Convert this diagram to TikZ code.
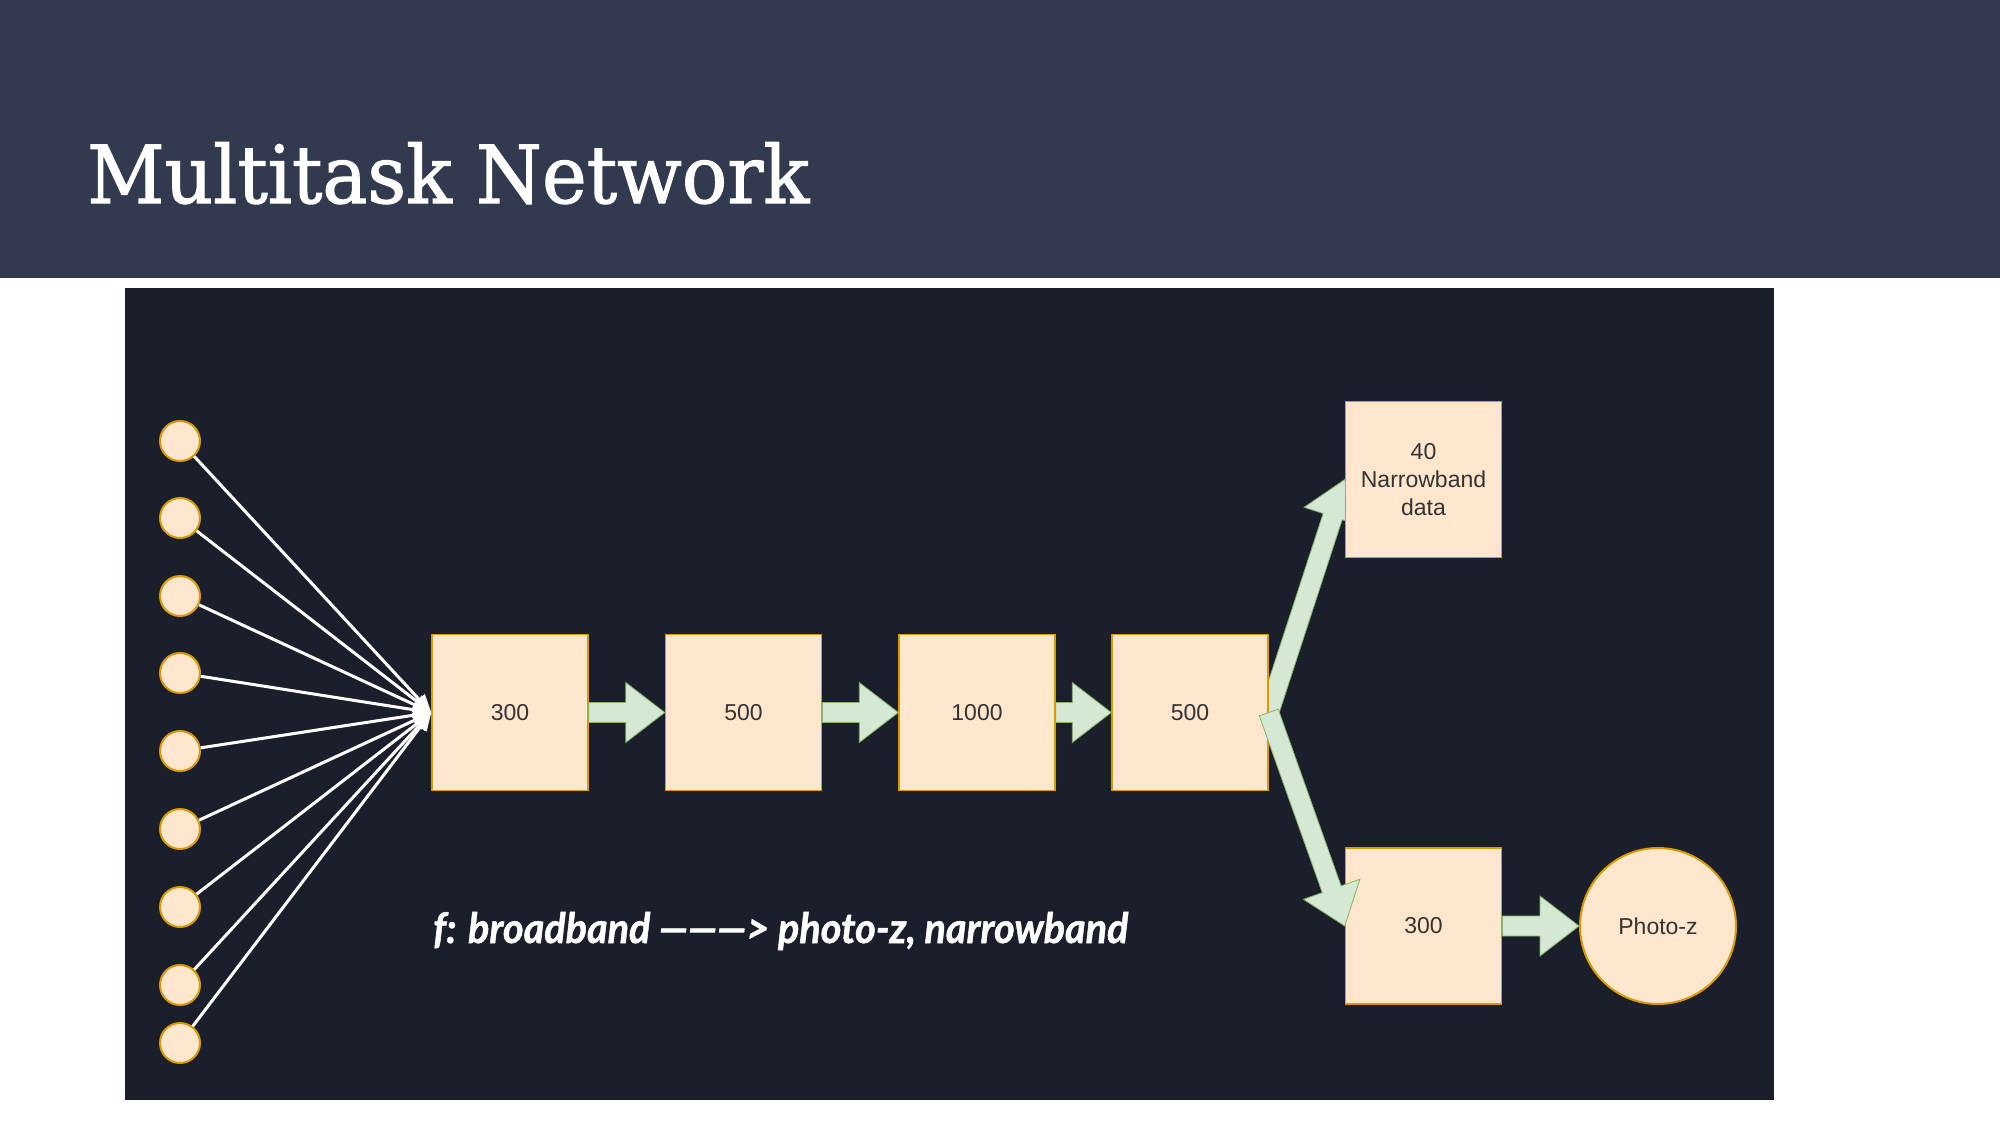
\documentclass[tikz,border=0pt]{standalone}
\usepackage{fontspec}
\setmainfont{Liberation Sans}
\newfontfamily\titlefont{DejaVu Serif}[FakeBold=1.4]
\newfontfamily\capfont{Lato}[FakeBold=1.2]
\usetikzlibrary{arrows.meta,calc}

\definecolor{headbg}{HTML}{323A4F}
\definecolor{panelbg}{HTML}{1B1F2B}
\definecolor{unitfill}{HTML}{FFE6CC}
\definecolor{unitline}{HTML}{D79B00}
\definecolor{flowfill}{HTML}{D5E8D4}
\definecolor{flowline}{HTML}{82B366}
\definecolor{labeltext}{HTML}{333333}

\pgfdeclarelayer{back}
\pgfdeclarelayer{mid}
\pgfsetlayers{back,mid,main}

\tikzset{
  layer/.style={draw=unitline, fill=unitfill, line width=1.5pt,
    minimum width=156pt, minimum height=156pt, inner sep=0pt,
    text=labeltext, font=\fontsize{23}{28}\selectfont, align=center},
  inputunit/.style={circle, draw=unitline, fill=unitfill, line width=2pt,
    minimum size=40pt, inner sep=0pt},
  outunit/.style={circle, draw=unitline, fill=unitfill, line width=2pt,
    minimum size=156pt, inner sep=0pt, text=labeltext,
    font=\fontsize{23}{28}\selectfont},
  wire/.style={white, line width=3pt, -{Triangle[length=18pt,width=15pt]}},
  flow/.style={fill=flowfill, draw=flowline, line width=0.8pt, line join=miter},
}

% thick block arrow from #1 (tail) to #2 (tip)
\newcommand\flowarrow[2]{%
  \coordinate (hb) at ($(#2)!39pt!(#1)$);
  \path[flow] ($(#1)!10pt!90:(#2)$) -- ($(hb)!10pt!90:(#2)$)
    -- ($(hb)!30pt!90:(#2)$) -- (#2) -- ($(hb)!30pt!-90:(#2)$)
    -- ($(hb)!10pt!-90:(#2)$) -- ($(#1)!10pt!-90:(#2)$) -- cycle;
}

\begin{document}
\begin{tikzpicture}[x=1pt,y=-1pt]
\useasboundingbox (0,0) rectangle (2000,1125);

\begin{pgfonlayer}{back}
  \fill[white] (0,0) rectangle (2000,1125);
  \fill[headbg] (0,0) rectangle (2000,278);
  \fill[panelbg] (125,288) rectangle (1774,1100);
\end{pgfonlayer}

\node[anchor=base west, inner sep=0pt, text=white] (title) at (87,203)
  {\resizebox{722pt}{\height}{\titlefont\fontsize{80}{80}\selectfont Multitask Network}};

% hidden layers
\node[layer] (h1) at (510,712.5) {300};
\node[layer] (h2) at (743.5,712.5) {500};
\node[layer] (h3) at (977,712.5) {1000};
\node[layer] (h4) at (1190,712.5) {500};

% outputs
\node[layer] (nb) at (1423.5,479.5) {40\\Narrowband\\data};
\node[layer] (pz) at (1423.5,926) {300};
\node[outunit] (out) at (1658,926) {Photo-z};

% input units fanning into the first layer
\foreach \yy [count=\i] in {441,518,596,673,751,829,907,985,1043} {
  \node[inputunit] (in\i) at (180,\yy) {};
  \draw[wire] (in\i) -- (h1.west);
}

% forward flow
\flowarrow{h1.east}{h2.west}
\flowarrow{h2.east}{h3.west}
\flowarrow{h3.east}{h4.west}
\begin{pgfonlayer}{mid}
  \flowarrow{h4.east}{nb.west}
\end{pgfonlayer}
\flowarrow{h4.east}{pz.west}
\flowarrow{pz.east}{out.west}

\node[anchor=base west, inner sep=0pt, text=white] (caption) at (433,943)
  {\resizebox{695pt}{\height}{\capfont\bfseries\itshape\fontsize{42}{42}\selectfont f: broadband ———> photo-z, narrowband}};
\end{tikzpicture}
\end{document}
